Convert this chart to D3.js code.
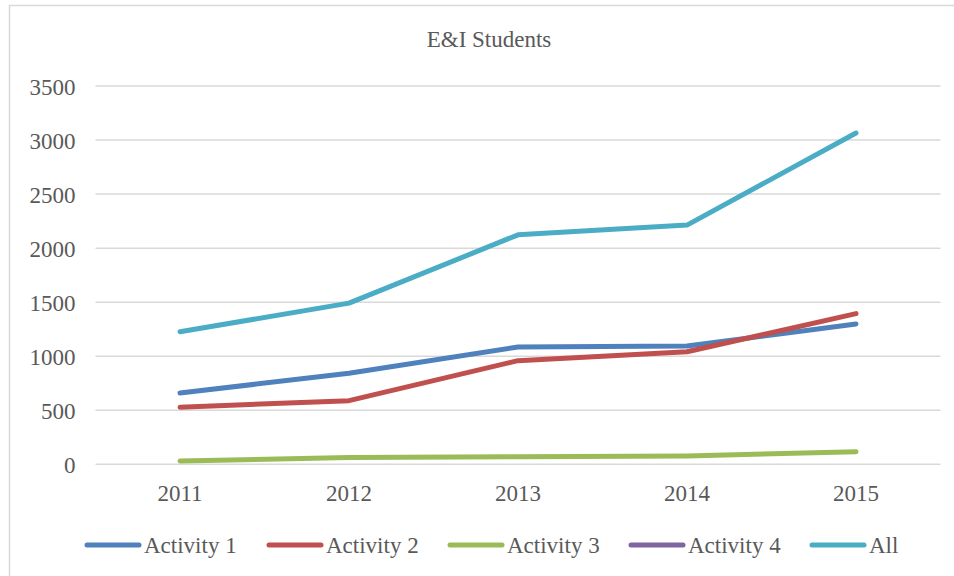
<!DOCTYPE html>
<html>
<head>
<meta charset="utf-8">
<script src="https://cdn.jsdelivr.net/npm/d3@7"></script>
<style>
  html, body { margin: 0; padding: 0; background: #fff; }
  svg { display: block; }
</style>
</head>
<body>
<svg id="chart" width="954" height="576"></svg>
<script>
const title = "E&I Students";
const years = ["2011", "2012", "2013", "2014", "2015"];
const yTicks = [0, 500, 1000, 1500, 2000, 2500, 3000, 3500];
const seriesNames = ["Activity 1", "Activity 2", "Activity 3", "Activity 4", "All"];
const activity1 = [660, 842, 1086, 1095, 1299];
const activity2 = [528, 589, 959, 1041, 1394];
const activity3 = [31, 62, 70, 77, 117];
const activity4 = [null, null, null, null, null];
const all = [1227, 1491, 2123, 2213, 3065];
const colors = ["#4F81BD", "#C0504D", "#9BBB59", "#8064A2", "#4BACC6"];

const seriesValues = [activity1, activity2, activity3, activity4, all];
const FONT = "'Liberation Serif', 'Times New Roman', serif";
const TXT = "#595959";

const svg = d3.select("#chart");

// outer chart border
svg.append("rect")
  .attr("x", 9.5).attr("y", 5.5)
  .attr("width", 960).attr("height", 600)
  .attr("fill", "none").attr("stroke", "#d9d9d9").attr("stroke-width", 1.5);

const plot = { left: 95.5, right: 940.5, top: 86, bottom: 464.3 };

const x = d3.scaleBand().domain(years).range([plot.left, plot.right]);
const y = d3.scaleLinear().domain([0, 3500]).range([plot.bottom, plot.top]);

// title
svg.append("text")
  .attr("x", 489).attr("y", 47)
  .attr("text-anchor", "middle")
  .style("font-family", FONT)
  .style("font-size", "23px")
  .style("fill", TXT)
  .text(title);

// gridlines
svg.append("g")
  .selectAll("line")
  .data(yTicks)
  .join("line")
  .attr("x1", plot.left).attr("x2", plot.right)
  .attr("y1", d => y(d)).attr("y2", d => y(d))
  .attr("stroke", "#d9d9d9").attr("stroke-width", 1.5);

// y axis
const yAxis = svg.append("g")
  .attr("transform", `translate(${plot.left - 20},0)`)
  .call(d3.axisLeft(y).tickValues(yTicks).tickSize(0).tickPadding(0).tickFormat(d3.format("d")));
yAxis.select(".domain").remove();
yAxis.selectAll("text")
  .style("font-family", FONT).style("font-size", "23px").style("fill", TXT)
  .attr("dy", "0.35em");

// x axis
const xAxis = svg.append("g")
  .attr("transform", `translate(0,${plot.bottom})`)
  .call(d3.axisBottom(x).tickSize(0).tickPadding(0));
xAxis.select(".domain").remove();
xAxis.selectAll("text")
  .style("font-family", FONT).style("font-size", "23px").style("fill", TXT)
  .attr("dy", null).attr("y", 37);

// lines
const line = d3.line()
  .defined(d => d.v != null)
  .x(d => x(d.year) + x.bandwidth() / 2)
  .y(d => y(d.v));

seriesValues.forEach((vals, i) => {
  const pts = years.map((yr, j) => ({ year: yr, v: vals[j] }));
  svg.append("path")
    .datum(pts)
    .attr("d", line)
    .attr("fill", "none")
    .attr("stroke", colors[i])
    .attr("stroke-width", 5)
    .attr("stroke-linecap", "round")
    .attr("stroke-linejoin", "round");
});

// legend
const legendX = [87, 269, 450, 631, 812];
const legendY = 545;
const legend = svg.append("g");
seriesNames.forEach((name, i) => {
  const g = legend.append("g").attr("transform", `translate(${legendX[i]},${legendY})`);
  g.append("line")
    .attr("x1", 0).attr("x2", 52).attr("y1", 0).attr("y2", 0)
    .attr("stroke", colors[i]).attr("stroke-width", 5).attr("stroke-linecap", "round");
  g.append("text")
    .attr("x", 57).attr("y", 7.5)
    .style("font-family", FONT).style("font-size", "23px").style("fill", TXT)
    .text(name);
});
</script>
</body>
</html>
